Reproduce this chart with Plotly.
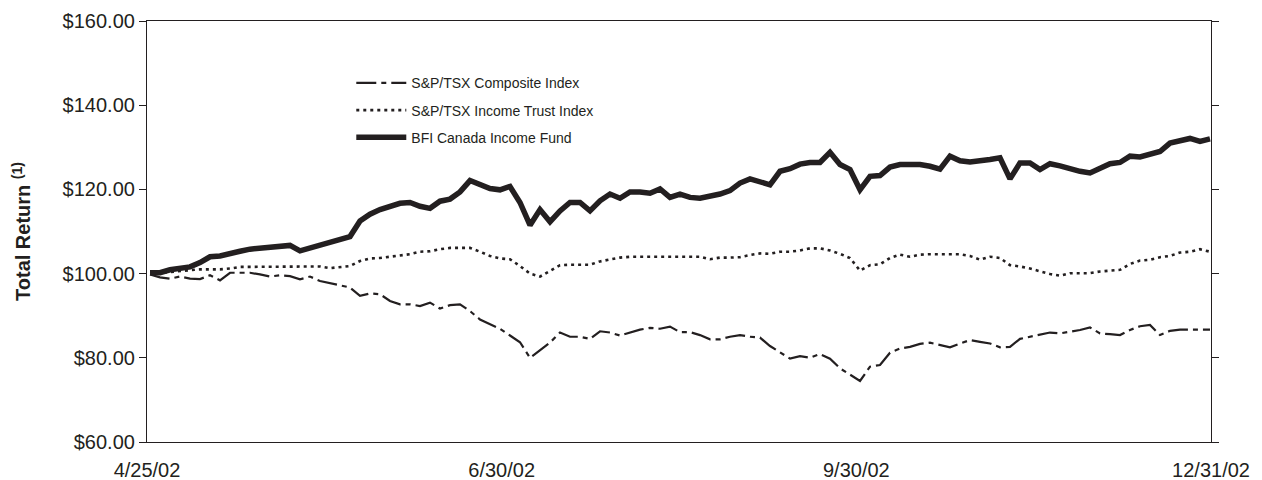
import plotly.graph_objects as go

# ---------------- data ----------------
tick_labels = ["4/25/02", "6/30/02", "9/30/02", "12/31/02"]

series_names = ["S&P/TSX Composite Index", "S&P/TSX Income Trust Index", "BFI Canada Income Fund"]

composite = [
    99.8, 99.1, 98.8, 99.3, 98.8, 98.7, 99.6, 98.4, 100.2, 100.2, 100.2, 99.8, 99.3, 99.6,
    99.4, 98.65, 99.3, 98.25, 97.7, 97.2, 96.7, 94.7, 95.3, 95.1, 93.5, 92.7, 92.7, 92.3,
    93.1, 91.7, 92.5, 92.7, 91.1, 89.1, 87.9, 86.9, 85.3, 83.7, 80.0, 81.8, 83.6, 86.0,
    85.0, 85.0, 84.5, 86.3, 86.0, 85.3, 86.0, 86.7, 87.1, 86.9, 87.4, 86.1, 86.1,
    85.4, 84.4, 84.4, 85.0, 85.4, 85.0, 84.8, 82.8, 81.4, 79.8, 80.4, 80.0, 80.9, 79.8,
    77.5, 76.1, 74.5, 77.9, 78.3, 81.2, 82.2, 82.6, 83.3, 83.6, 83.0, 82.5, 83.4, 84.2,
    83.8, 83.4, 82.5, 82.6, 84.5, 85.0, 85.6, 86.0, 85.8, 86.2, 86.6, 87.2, 85.8, 85.6,
    85.4, 86.6, 87.5, 87.8, 85.4, 86.4, 86.7, 86.7, 86.7, 86.7,
]

income_trust = [
    100.2, 100.2, 100.4, 100.6, 100.9, 101.0, 101.0, 101.0, 101.2, 101.6, 101.6, 101.6, 101.7, 101.7,
    101.7, 101.7, 101.7, 101.7, 101.3, 101.6, 101.8, 103.0, 103.6, 103.7, 104.0, 104.4, 104.6, 105.2,
    105.3, 105.8, 106.1, 106.1, 106.1, 105.2, 104.2, 103.6, 103.4, 101.8, 100.0, 99.3, 100.6, 102.0,
    102.1, 102.1, 102.1, 102.9, 103.4, 103.8, 104.0, 104.0, 104.0, 104.0, 104.0, 104.0, 104.0,
    104.0, 103.4, 103.8, 103.8, 103.9, 104.4, 104.8, 104.7, 105.2, 105.2, 105.5, 106.0, 106.0, 105.5,
    104.7, 103.7, 100.7, 102.0, 102.2, 103.7, 104.5, 104.0, 104.5, 104.6, 104.6, 104.6, 104.6, 104.2,
    103.3, 104.0, 103.7, 102.0, 101.7, 101.2, 100.5, 99.9, 99.5, 100.1, 100.1, 100.1, 100.5, 100.7,
    100.9, 102.3, 103.1, 103.3, 103.9, 104.2, 105.0, 105.2, 105.8, 105.2,
]

bfi_fund = [
    100.2, 100.2, 100.9, 101.2, 101.6, 102.6, 104.0, 104.2, 104.6, 105.3, 105.8, 106.1, 106.1, 106.4,
    106.7, 105.4, 106.1, 106.7, 107.5, 108.2, 108.8, 112.5, 114.1, 115.2, 116.0, 116.7, 116.9, 116.0,
    115.5, 117.2, 117.7, 119.4, 122.1, 121.0, 120.2, 119.9, 120.7, 116.9, 111.5, 115.2, 112.3, 114.9,
    116.9, 116.9, 114.9, 117.3, 118.9, 117.9, 119.4, 119.4, 119.1, 120.1, 118.1, 118.9, 118.1,
    117.9, 118.3, 118.9, 119.7, 121.5, 122.5, 121.9, 121.1, 124.3, 124.9, 126.0, 126.4, 126.4, 128.8,
    125.9, 124.7, 119.9, 123.1, 123.3, 125.3, 125.9, 125.9, 125.9, 125.5, 124.8, 127.9, 126.8, 126.5,
    126.7, 127.1, 127.5, 122.5, 126.3, 126.3, 124.7, 126.1, 125.6, 124.8, 124.3, 123.9, 125.1, 126.1,
    126.4, 127.9, 127.7, 128.3, 129.0, 131.0, 131.7, 132.1, 131.4, 132.0,
]

y_ticks = [60, 80, 100, 120, 140, 160]
y_tick_labels = ["$%.2f" % v for v in y_ticks]

# ---------------- figure ----------------
INK = "#231f20"
FONT = "Arial, 'Liberation Sans', Helvetica, sans-serif"

n = len(bfi_fund)
x = list(range(n))
x_lo, x_hi = -0.3, (n - 1) + 0.1
tick_pos = [x_lo + (x_hi - x_lo) * k / (len(tick_labels) - 1) for k in range(len(tick_labels))]

fig = go.Figure()
fig.add_trace(go.Scatter(
    x=x, y=composite, mode="lines", name=series_names[0], legendgroup="a",
    line=dict(color=INK, width=2.2, dash="20px,5px,5px,5px"),
))
fig.add_trace(go.Scatter(
    x=x, y=income_trust, mode="lines", name=series_names[1], legendgroup="b",
    line=dict(color=INK, width=2.6, dash="3px,4px"),
))
fig.add_trace(go.Scatter(
    x=x, y=bfi_fund, mode="lines", name=series_names[2], legendgroup="c",
    line=dict(color=INK, width=5.5),
))

# page body adds an 8px offset; size the figure so the plot area lands where the reference has it
fig.update_layout(
    width=1254, height=472,
    margin=dict(l=139, r=51, t=13, b=38),
    paper_bgcolor="white", plot_bgcolor="white",
    font=dict(family=FONT, color=INK, size=20),
    showlegend=True,
    legend=dict(
        x=0.192, y=0.89, xanchor="left", yanchor="top",
        font=dict(size=14, family=FONT, color=INK),
        bgcolor="rgba(0,0,0,0)", borderwidth=0,
        tracegroupgap=6, itemwidth=50,
    ),
    xaxis=dict(
        range=[x_lo, x_hi], tickmode="array", tickvals=tick_pos, ticktext=tick_labels,
        showgrid=False, zeroline=False, showline=True, linecolor=INK, linewidth=1.2,
        mirror=True, ticks="", ticklabelstandoff=10, automargin=False,
        tickfont=dict(size=20, family=FONT, color=INK),
    ),
    yaxis=dict(
        range=[60, 160], tickmode="array", tickvals=y_ticks, ticktext=y_tick_labels,
        showgrid=False, zeroline=False, showline=True, linecolor=INK, linewidth=1.2,
        mirror="ticks", ticks="outside", ticklen=7, tickcolor=INK, tickwidth=1,
        automargin=False,
        tickfont=dict(size=20, family=FONT, color=INK),
        title=dict(text="<b>Total Return <sup>(1)</sup></b>", standoff=26,
                   font=dict(size=20, family=FONT, color=INK)),
    ),
)

fig.write_html("out.html")
